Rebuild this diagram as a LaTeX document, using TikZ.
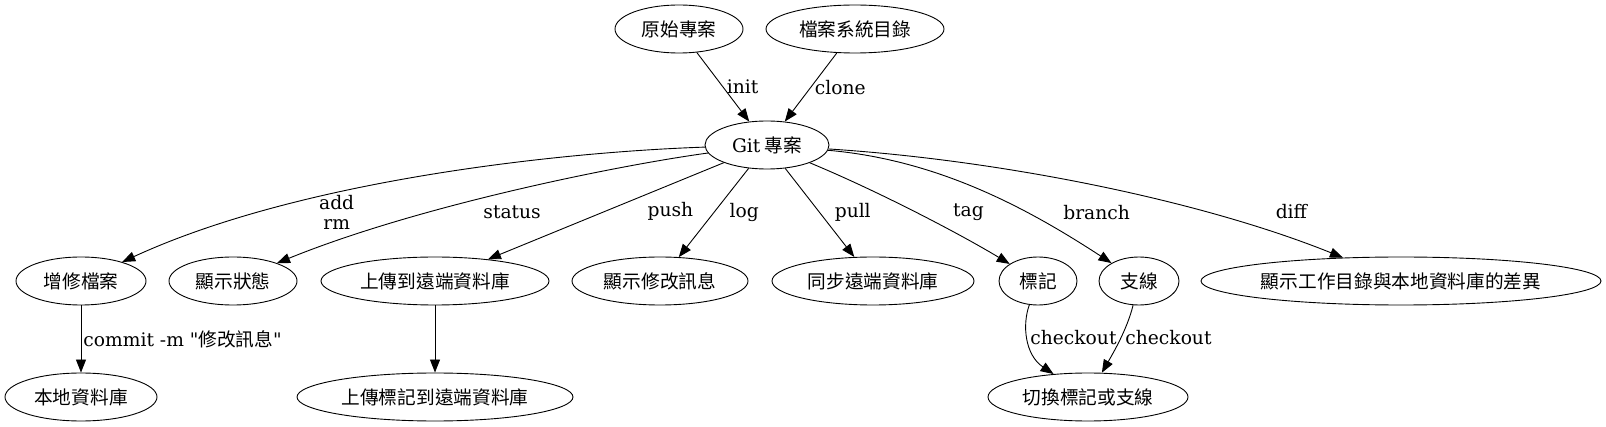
\documentclass[tikz,border=0pt]{standalone}
\usepackage{fontspec}
\setmainfont{DejaVu Serif}
\newfontfamily\cjk{Noto Sans CJK TC}
\usepackage{tikz}
\usetikzlibrary{arrows,arrows.meta,shapes}
\tikzstyle{vertex}=[ellipse,draw,line width=0.9pt,minimum height=48pt,inner sep=0pt,font=\cjk\fontsize{18.67}{20}\selectfont]
\tikzstyle{arrow}=[draw,line width=0.9pt,-{Triangle[length=13pt,width=10pt]}]
\tikzstyle{cmd}=[font=\fontsize{18.67}{20}\selectfont,inner sep=0pt,align=center]

\begin{document}
\begin{tikzpicture}[x=1pt,y=-1pt]
    \useasboundingbox (0,0) rectangle (1606,427);
    \foreach \pos/\name/\wide/\txt in {{(679,29)/orig/128/原始專案}, {(855,29)/fsdir/178/檔案系統目錄},
        {(767,145)/git/124/{\rmfamily Git} 專案},
        {(81,281)/zeng/130/增修檔案}, {(233,281)/zhuang/128/顯示狀態}, {(435,281)/shang/228/上傳到遠端資料庫},
        {(660,281)/xiugai/176/顯示修改訊息}, {(873,281)/tongbu/202/同步遠端資料庫}, {(1038,281)/biaoji/78/標記},
        {(1139,281)/zhixian/80/支線}, {(1401,281)/chayi/400/顯示工作目錄與本地資料庫的差異},
        {(81,397)/bendi/152/本地資料庫}, {(435,397)/shangbiao/276/上傳標記到遠端資料庫}, {(1088,397)/qiehuan/200/切換標記或支線}}
        \node[vertex,minimum width=\wide pt] (\name) at \pos {\txt};
    % straight edges
    \foreach \src/\dst/\weight/\dx in {orig/git/init/19.5, fsdir/git/clone/29.5, git/shang/push/64.5, git/xiugai/log/30.5, git/tongbu/pull/33}
        \path[arrow] (\src) -- node[cmd,xshift=\dx pt] {\weight} (\dst);
    \path[arrow] (zeng) -- node[cmd,anchor=west,xshift=2pt] {commit -m \textquotedbl{\cjk 修改訊息}\textquotedbl} (bendi);
    \path[arrow] (shang) -- (shangbiao);
    % curved edges
    \path[arrow] (git) .. controls (560,152) and (300,180) .. node[cmd,pos=.62,xshift=-13pt,yshift=-22pt] {add\\rm} (zeng);
    \path[arrow] (git) .. controls (620,165) and (420,205) .. node[cmd,pos=.5,xshift=-1pt,yshift=-21.5pt] {status} (zhuang);
    \path[arrow] (git) .. controls (880,192) and (960,234) .. node[cmd,pos=.5,xshift=51pt,yshift=1pt] {tag} (biaoji);
    \path[arrow] (git) .. controls (940,160) and (1030,210) .. node[cmd,pos=.75,xshift=48pt,yshift=12pt] {branch} (zhixian);
    \path[arrow] (git) .. controls (1000,160) and (1200,200) .. node[cmd,pos=.75,xshift=65pt,yshift=6pt] {diff} (chayi);
    \path[arrow] (biaoji) .. controls (1022,325) and (1025,355) .. node[cmd,pos=.5,anchor=west,xshift=2pt,yshift=2pt] {checkout} (qiehuan);
    \path[arrow] (zhixian) .. controls (1127,330) and (1112,355) .. node[cmd,pos=.5,anchor=west,xshift=6pt,yshift=3.6pt] {checkout} (qiehuan);
\end{tikzpicture}
\end{document}
